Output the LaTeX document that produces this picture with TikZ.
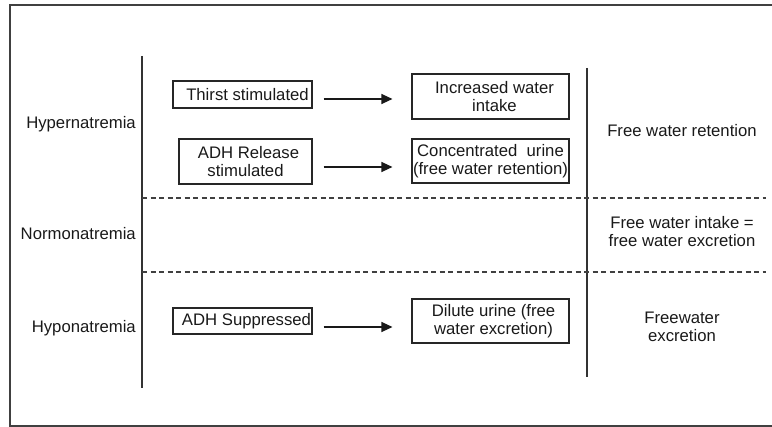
\documentclass[tikz,border=0pt]{standalone}
\usepackage{fontspec}
\setmainfont{Liberation Sans}
\usetikzlibrary{arrows.meta}
\begin{document}
\begin{tikzpicture}[x=1pt,y=-1pt,
  every node/.style={font=\fontsize{16.7}{18}\selectfont, text=black!90, inner sep=0pt},
  box/.style={draw=black!85, line width=1.1pt, align=center},
  lbl/.style={align=center},
  arr/.style={draw=black!90, line width=1.2pt, -{Triangle[length=11pt,width=10pt]}},
  rule/.style={draw=black!80, line width=1.1pt},
  dline/.style={draw=black!75, line width=1.1pt, dash pattern=on 5pt off 3.5pt},
  frame/.style={draw=black!75, line width=1.6pt}]
\useasboundingbox (0,0) rectangle (772,427);
% frame
\draw[frame] (772,5) -- (10,5) -- (10,426) -- (772,426);
% vertical rules
\coordinate (la) at (142,56);
\coordinate (lb) at (142,388);
\coordinate (ra) at (587,68);
\coordinate (rb) at (587,377);
\draw[rule] (la) -- (lb);
\draw[rule] (ra) -- (rb);
% dashed separators
\coordinate (d1a) at (142,198);
\coordinate (d1b) at (766,198);
\coordinate (d2a) at (142,272);
\coordinate (d2b) at (766,272);
\draw[dline] (d1a) -- (d1b);
\draw[dline] (d2a) -- (d2b);
% left labels
\node[anchor=east] (hyper) at (136,124) {Hypernatremia};
\node[anchor=east] (normo) at (136,234) {Normonatremia};
\node[anchor=east] (hypo) at (136,328) {Hyponatremia};
% boxes
\node[box, minimum width=139pt, minimum height=27pt] (t1) at (242.5,94.5) {\hspace*{10pt}Thirst stimulated};
\node[box, minimum width=157pt, minimum height=45pt] (t2) at (490.5,96.5) {\hspace*{8pt}Increased water\\\hspace*{8pt}intake};
\node[box, minimum width=133pt, minimum height=45pt] (a1) at (245.5,161.5) {\hspace*{6pt}ADH Release\\stimulated};
\node[box, minimum width=157pt, minimum height=44pt] (a2) at (490.5,161) {Concentrated\ \ urine\\(free water retention)};
\node[box, minimum width=139pt, minimum height=26pt] (s1) at (242.5,321) {\hspace*{8pt}ADH Suppressed};
\node[box, minimum width=157pt, minimum height=44pt] (s2) at (490.5,321) {\hspace*{6pt}Dilute urine (free\\\hspace*{6pt}water excretion)};
% arrows
\draw[arr] ([xshift=11pt,yshift=-4.5pt]t1.east) -- ([xshift=-19pt,yshift=-2.5pt]t2.west);
\draw[arr] ([xshift=11pt,yshift=-5.5pt]a1.east) -- ([xshift=-19pt,yshift=-6pt]a2.west);
\draw[arr] ([xshift=11pt,yshift=-6pt]s1.east) -- ([xshift=-19pt,yshift=-6pt]s2.west);
% right labels
\node[lbl] (rr) at (682,131) {Free water retention};
\node[lbl] (rn) at (682,232) {Free water intake =\\free water excretion};
\node[lbl] (re) at (682,327) {Freewater\\excretion};
\end{tikzpicture}
\end{document}
